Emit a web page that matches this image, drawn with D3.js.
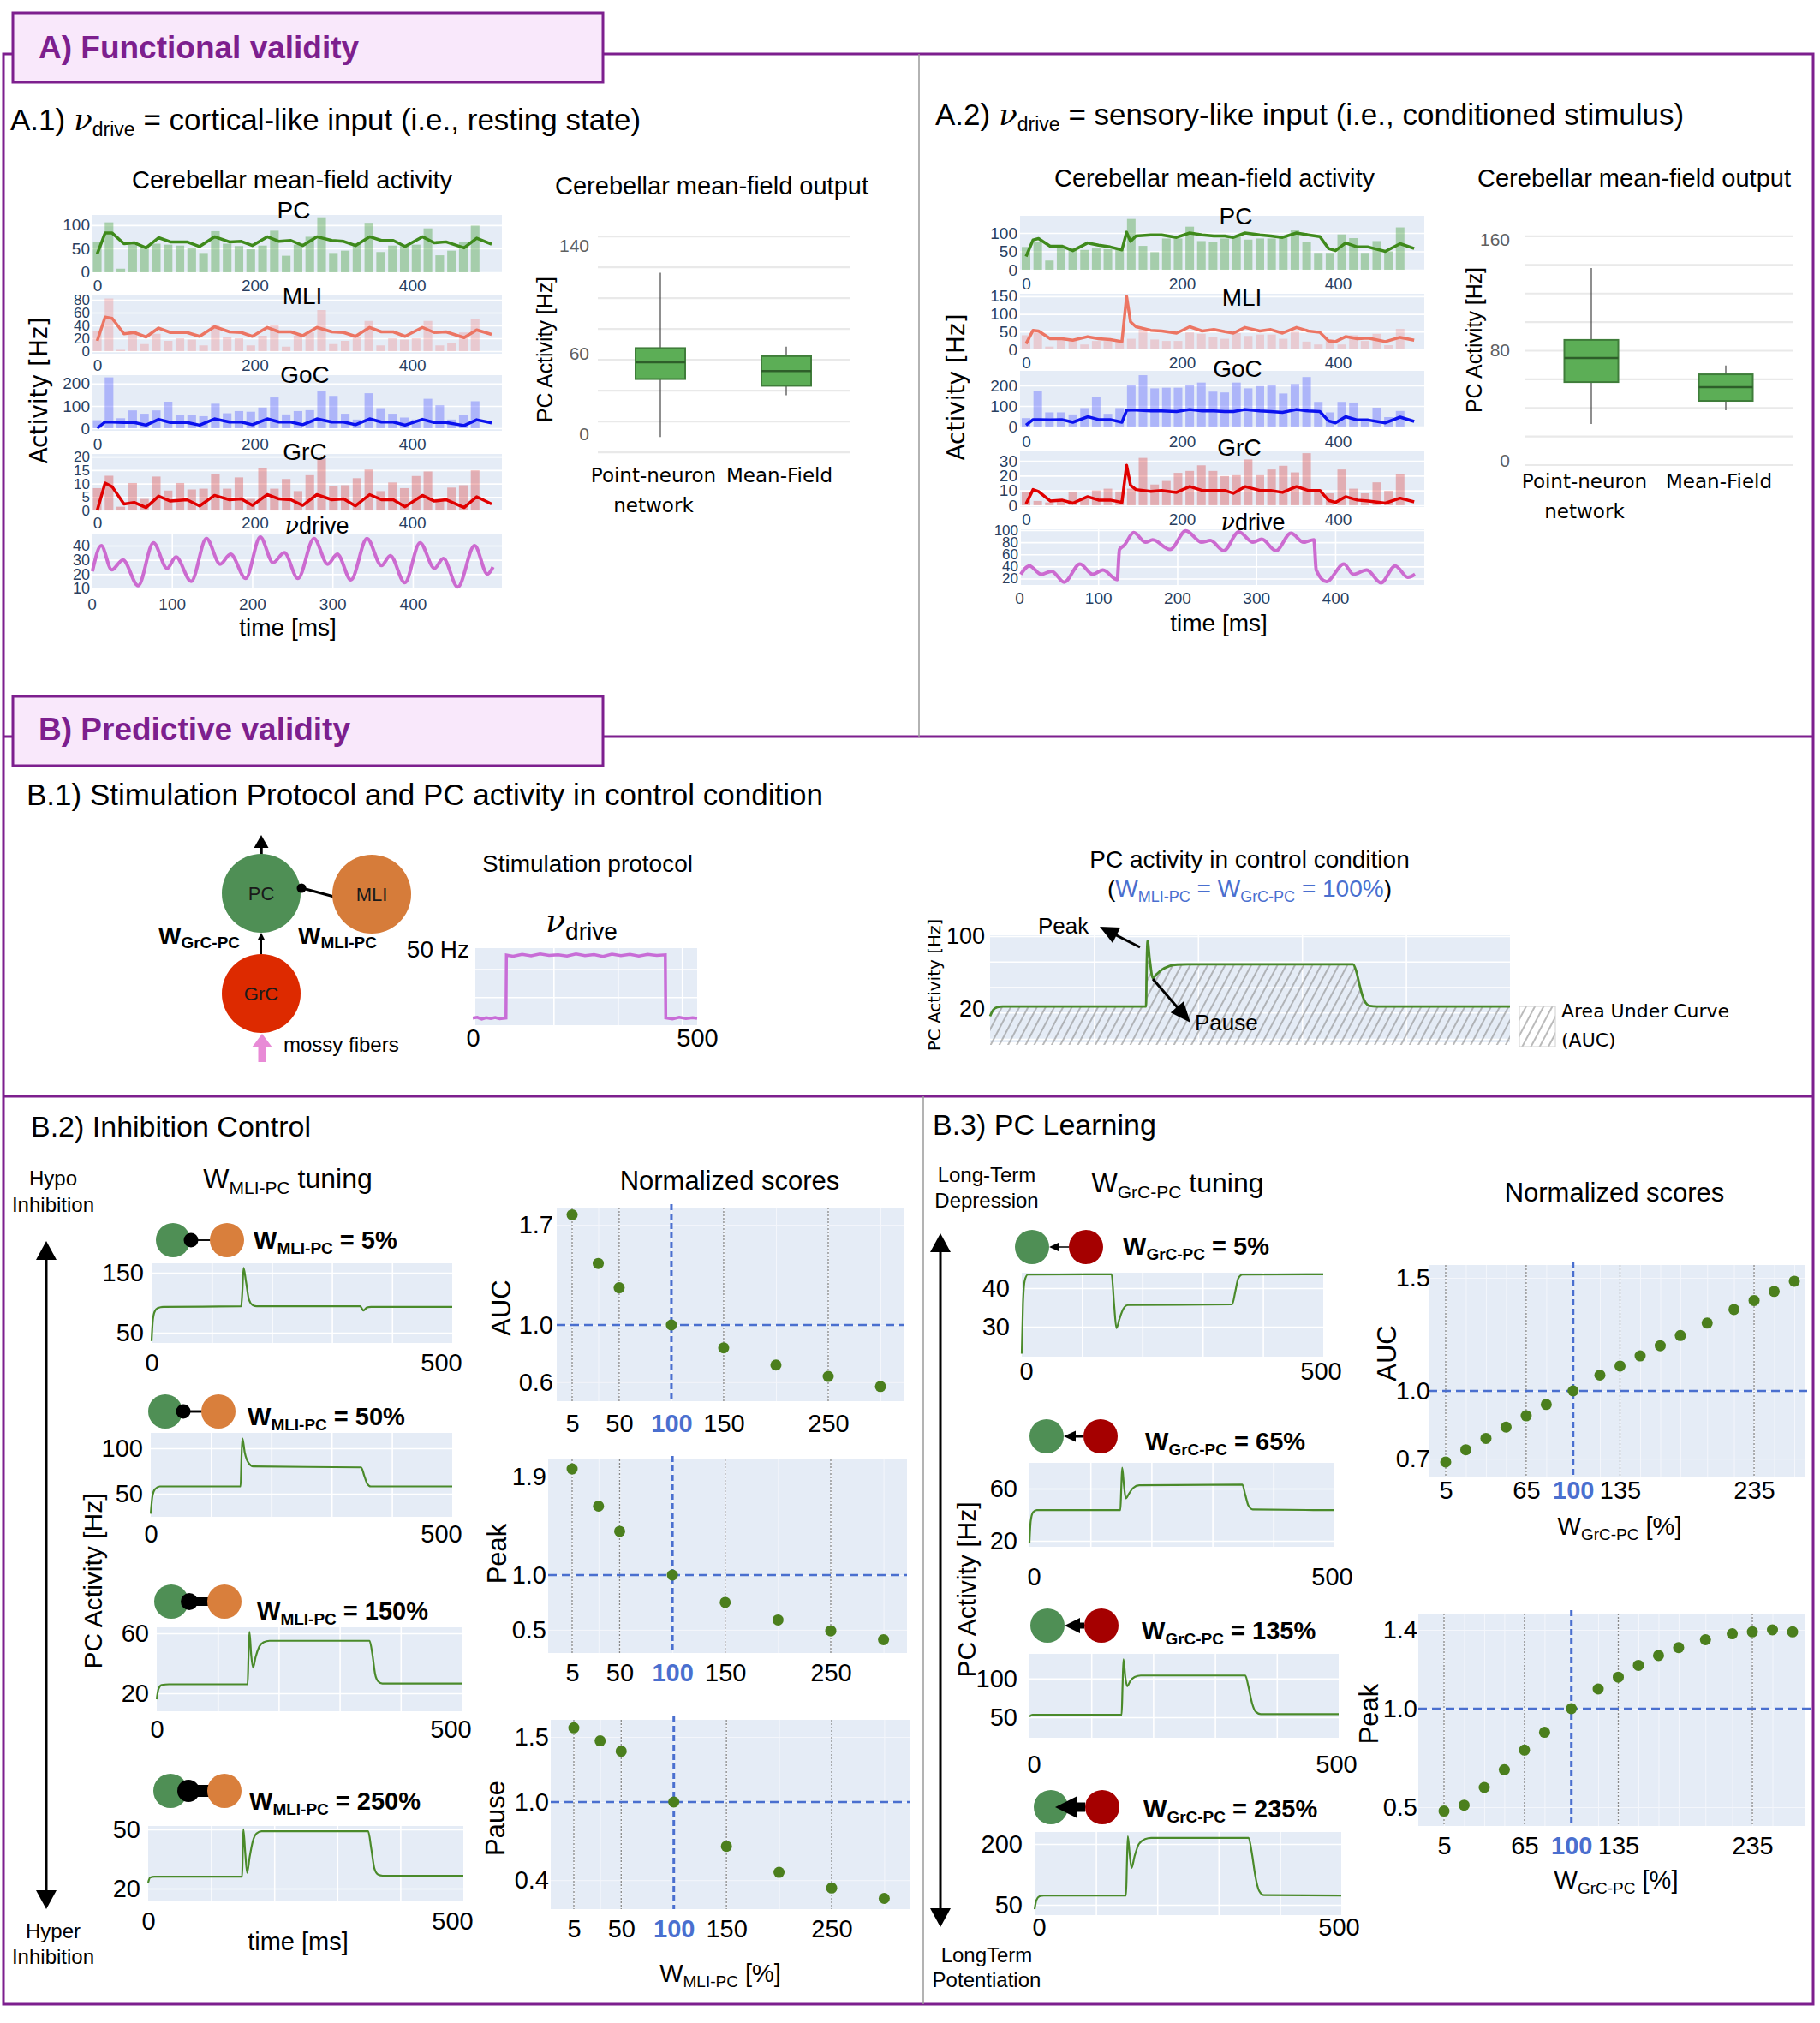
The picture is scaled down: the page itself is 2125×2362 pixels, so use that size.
<!DOCTYPE html>
<html><head><meta charset="utf-8">
<script src="https://cdn.jsdelivr.net/npm/d3@7/dist/d3.min.js"></script>
<style>html,body{margin:0;padding:0;background:#fff}</style>
</head><body>
<script>
// ======================= DATA =======================
const bins=[0,15,30,45,60,75,90,105,120,135,150,165,180,195,210,225,240,255,270,285,300,315,330,345,360,375,390,405,420,435,450,465,480];
// A.1 cortical-like input
const a1PcBars=[64,106,6,58,52,60,58,56,50,40,87,60,55,48,56,88,34,58,75,117,40,45,60,105,42,56,55,58,93,35,45,64,99];
const a1MliBars=[31,82,2,31,11,27,16,20,18,9,40,22,20,9,24,40,7,24,29,64,11,16,22,47,9,20,18,20,47,9,13,29,50];
const a1GocBars=[36,228,45,80,65,80,119,58,58,54,110,67,77,74,93,138,62,77,81,165,145,65,39,157,90,65,48,39,132,103,39,58,121];
const a1GrcBars=[8.3,12.9,1.4,10.2,4.3,12.6,7.4,10.2,7.8,8.1,13.6,8.1,12.3,4.3,15.7,8.1,11.7,7.2,13.1,19.5,9.1,9.4,12.0,15.2,7.2,10.4,8.3,12.8,14.5,4.3,8.5,9.4,14.9];
const a1LineT=[0,10,19,34,47,62,78,93,114,130,149,168,183,197,216,231,246,261,279,298,313,328,346,361,376,391,413,428,443,466,482,501];
const a1PcLine=[38,83,83,60,62,51,73,64,64,54,75,64,65,56,75,65,67,56,75,67,65,56,75,67,67,54,75,62,64,51,72,59];
const a1MliLine=[16,53,51,27,29,22,36,29,29,23,38,30,29,23,37,30,30,24,37,30,29,23,37,30,30,23,37,29,30,21,33,26];
const a1GocLine=[0,28,28,26,26,14,40,26,26,14,42,28,28,16,42,28,28,16,42,28,28,16,42,28,28,14,40,26,26,12,38,24];
const a1GrcLine=[0,10.2,8.8,2.4,3.0,1.1,5.3,3.5,4.0,1.7,5.6,4.0,4.3,1.9,5.9,4.3,4.0,1.9,5.9,4.0,4.3,1.7,5.9,4.0,4.0,1.4,5.6,3.5,4.0,1.1,5.1,2.4];
const a1DriveT=[1,12,25,39,58,77,94,105,124,143,160,173,192,210,226,240,257,277,294,306,323,343,361,372,390,409,427,438,456,477,493,500];
const a1DriveV=[22,40,23,30,12,42,24,32,15,45,27,34,17,46,28,35,17,45,27,34,16,45,26,33,14,42,24,31,11,40,20,25];
// A.2 sensory-like input
const a2PcBars=[62,75,25,62,54,54,58,56,54,138,65,48,85,85,117,78,75,85,92,82,85,85,88,108,75,46,46,96,86,46,78,50,115];
const a2MliBars=[40,52,8,32,28,14,24,24,26,30,56,28,24,24,48,44,36,30,46,38,42,42,30,50,22,14,28,14,40,24,44,12,58];
const a2GocBars=[41,175,69,69,59,90,145,62,90,203,250,186,189,189,203,214,170,166,214,186,197,200,161,207,241,120,69,120,117,28,92,46,76];
const a2GrcBars=[8.7,2.9,1.9,2.9,8.7,4.8,10,11.2,9.3,11.2,32,14,16.4,21.9,23.2,27,23.2,19.7,20.3,31,20.3,24.2,26.7,22.2,35.2,10.6,8.1,24.2,11.2,8.1,15.5,9.7,21.3];
const a2LineT=[0,9,16,31,46,60,79,93,108,123,129,134,141,160,174,193,210,226,241,255,266,281,300,314,329,347,362,377,388,397,410,425,439,461,480,498];
const a2PcLine=[36,81,85,64,64,52,73,67,62,54,102,77,92,95,95,88,100,95,92,92,88,100,95,92,88,100,95,90,58,52,73,62,62,50,71,58];
const a2MliLine=[16,54,52,30,30,26,36,30,28,22,150,78,64,54,52,46,64,52,56,50,46,62,52,56,46,62,52,48,24,22,36,30,32,22,34,26];
const a2GocLine=[7,34,33,32,34,21,48,34,34,21,79,80,80,76,76,73,83,76,76,73,73,83,76,73,69,83,76,73,28,18,48,32,32,18,46,25];
const a2GrcLine=[1,10.6,9.3,2.9,3.5,1.4,5.8,3.5,3.5,1.9,27,13.5,10.6,9.3,10,8.7,12.6,10,10,10,8.1,12.6,10,10,8.7,12.6,10,10,3.3,1.9,5.8,3.5,2.9,1.4,4.8,2.3];
const a2DriveT=[2,13,28,41,57,77,93,106,124,127,133,145,160,169,191,211,231,242,259,278,296,307,325,344,360,373,376,389,411,423,440,458,476,492,501];
const a2DriveV=[27,41,27,32,14,44,27,34,18,68,75,96,80,84,68,99,80,83,66,97,80,85,66,95,80,84,34,15,44,27,34,13,41,22,27];
// box plots (PC activity)
const boxCats=["Point-neuron network","Mean-Field"];
const boxCatLines=[["Point-neuron","network"],["Mean-Field"]];
const a1BoxMin=[-2,29], a1BoxQ1=[41,36], a1BoxMed=[53.5,47], a1BoxQ3=[64,58], a1BoxMax=[120,65];
const a2BoxMin=[26.7,36.6], a2BoxQ1=[57,43.4], a2BoxMed=[74.4,53.3], a2BoxQ3=[87.5,62.6], a2BoxMax=[139.5,69];
// B.1 stimulation protocol & control
const protoT=[0,10,20,30,40,50,60,74,75,90,110,130,150,170,190,210,230,250,270,290,310,330,350,370,390,410,429,430,445,460,475,490,500];
const protoV=[5,5.6,4.4,5.3,4.7,5.5,4.6,5.1,50,49.2,50.6,49.5,50.9,49.8,50.3,49.4,50.8,49.7,50.4,49.1,50.7,49.6,50.5,49.3,50.6,49.8,50.2,5.2,4.5,5.6,4.7,5.4,4.9];
const ctrlT=[0,3,7,12,150,150.5,151.5,153.5,156.5,160,165,172,180,190,349,352,355,358,361,365,372,500];
const ctrlV=[12,19,22,22.8,22.8,60,95,75,54,58,63,67,68.7,69,69,62,48,35,27,23.5,22.8,22.8];
// B.2 W_MLI-PC tuning traces
const b2Labels=["5%","50%","150%","250%"];
const b2P1T=[0,2,5,10,20,149,151,153,157,162,168,175,347,350,352,355,358,365,500];
const b2P1V=[36,70,85,91,93,94,120,158,135,105,96,94,94,90,87,89,92,93,93];
const b2P2T=[0,3,7,15,149,150.5,152,156,162,170,349,354,359,365,500];
const b2P2V=[28,48,55,58,58,90,111,95,84,80,79,70,61,58,58];
const b2P3T=[0,3,8,20,149,150.5,152,155,158,162,168,175,185,349,354,358,363,370,500];
const b2P3V=[16,23,25.5,26,26,45,61,45,37,44,51,54,55,55,45,33,28,26.5,26.5];
const b2P4T=[0,3,10,149,150,151,154,157,161,166,172,180,349,354,359,365,372,500];
const b2P4V=[23,25.5,26,26,38,50,38,28,36,44,48,49,49,40,30,27,26.5,26.5];
// B.3 W_GrC-PC tuning traces
const b3Labels=["5%","65%","135%","235%"];
const b3P1T=[0,2,5,10,149,153,157,162,168,176,349,354,359,366,500];
const b3P1V=[23,36,42,43.5,43.6,36,29.6,32,34.5,35.6,35.8,39,42.5,43.5,43.6];
const b3P2T=[0,2,6,12,149,150.5,152,155,158,163,170,180,349,354,359,366,500];
const b3P2V=[18.7,35,42,43.5,43.5,60,76,62,52.5,56,60.5,62.5,63,55,47,44,43.5];
const b3P3T=[0,5,149,150.5,152,155,158,163,170,180,349,354,360,366,374,500];
const b3P3V=[51,53,53,90,125,102,90,97,102,104,104,90,68,57,54,54];
const b3P4T=[0,3,8,15,149,150.5,152,155,158,163,170,180,190,349,354,360,366,374,500];
const b3P4V=[39,62,71,73,73,150,219,175,141,170,200,212,215,215,180,120,85,74,73];
// Normalized scores
const b2W=[5,30,50,100,150,200,250,300];
const b2Auc=[1.77,1.43,1.26,1.0,0.84,0.72,0.64,0.57];
const b2Peak=[1.97,1.63,1.40,1.0,0.75,0.59,0.49,0.41];
const b2Pause=[1.57,1.47,1.39,1.0,0.66,0.46,0.34,0.26];
const b2Ticks=[5,50,100,150,250];
const b3W=[5,20,35,50,65,80,100,120,135,150,165,180,200,220,235,250,265];
const b3Auc=[0.686,0.74,0.79,0.84,0.89,0.94,1.0,1.07,1.11,1.155,1.20,1.245,1.30,1.36,1.40,1.44,1.485];
const b3Peak=[0.48,0.51,0.60,0.69,0.79,0.88,1.0,1.10,1.16,1.22,1.27,1.31,1.35,1.38,1.39,1.40,1.39];
const b3Ticks=[5,65,100,135,235];

// ======================= DRAW =======================
const W=2125,H=2362;
const SANS="'Liberation Sans', Arial, Helvetica, sans-serif";
const DEJA="'DejaVu Sans', Verdana, sans-serif";
const SERIF="'DejaVu Serif', 'Liberation Serif', serif";
const PUR="#7d1f8e", PINK="#f9e8fb", PLOTBG="#e5ecf6", TICK="#2a3f5f", BLUE="#4a6fcf";
const svg=d3.select("body").append("svg").attr("width",W).attr("height",H).attr("font-family",SANS);
svg.append("rect").attr("width",W).attr("height",H).attr("fill","#fff");
const defs=svg.append("defs");
const pat=defs.append("pattern").attr("id","hatch").attr("patternUnits","userSpaceOnUse").attr("width",9).attr("height",9).attr("patternTransform","rotate(28)");
pat.append("line").attr("x1",1).attr("y1",0).attr("x2",1).attr("y2",9).attr("stroke","#8c8c8c").attr("stroke-width",1.2);

function rich(g,x,y,parts,attrs){
  const t=g.append("text").attr("x",x).attr("y",y);
  if(attrs) for(const k in attrs) t.attr(k,attrs[k]);
  let shift=0;
  parts.forEach(p=>{
    const ts=t.append("tspan").text(p.t);
    const s=p.dy||0;
    if(s!==shift){ts.attr("dy",s-shift);shift=s;}
    if(p.fs) ts.attr("font-size",p.fs);
    if(p.fill) ts.attr("fill",p.fill);
    if(p.it) ts.attr("font-style","italic");
    if(p.ff) ts.attr("font-family",p.ff);
    if(p.fw) ts.attr("font-weight",p.fw);
  });
  return t;
}
function txt(g,x,y,s,fs,attrs){
  const t=g.append("text").attr("x",x).attr("y",y).attr("font-size",fs).text(s);
  if(attrs) for(const k in attrs) t.attr(k,attrs[k]);
  return t;
}
function arrow(g,x1,y1,x2,y2,hl,hw,sw,col){
  const dx=x2-x1,dy=y2-y1,L=Math.hypot(dx,dy),ux=dx/L,uy=dy/L;
  const bx=x2-ux*hl,by=y2-uy*hl;
  g.append("line").attr("x1",x1).attr("y1",y1).attr("x2",bx+ux).attr("y2",by+uy).attr("stroke",col).attr("stroke-width",sw);
  g.append("polygon").attr("points",`${x2},${y2} ${bx-uy*hw/2},${by+ux*hw/2} ${bx+uy*hw/2},${by-ux*hw/2}`).attr("fill",col);
}
function cleanAxis(a,fs,col,ff){
  a.select(".domain").remove();
  a.selectAll("text").attr("font-size",fs).attr("fill",col).attr("font-family",ff||SANS);
}
function gridAxis(a){a.select(".domain").remove();a.selectAll("line").attr("stroke","#fff").attr("stroke-width",1.6);}

// ---------- frames ----------
const fr=svg.append("g").attr("fill","none").attr("stroke",PUR).attr("stroke-width",3);
fr.append("path").attr("d","M4,63H2117V2340H4Z M4,860H2117 M4,1280H2117");
svg.append("line").attr("x1",1073).attr("x2",1073).attr("y1",63).attr("y2",860).attr("stroke","#9a9a9a").attr("stroke-width",1.5);
svg.append("line").attr("x1",1078).attr("x2",1078).attr("y1",1280).attr("y2",2340).attr("stroke","#9a9a9a").attr("stroke-width",1.5);
[[15,"A) Functional validity",68],[813,"B) Predictive validity",864]].forEach(([y,s,b])=>{
  svg.append("rect").attr("x",15).attr("y",y).attr("width",689).attr("height",81).attr("fill",PINK).attr("stroke",PUR).attr("stroke-width",3);
  txt(svg,45,b,s,37,{"font-weight":"bold",fill:PUR});
});

// ---------- section A ----------
rich(svg,12,152,[{t:"A.1) ",fs:35},{t:"ν",fs:36,it:true,ff:SERIF},{t:"drive",fs:23,dy:7},{t:" = cortical-like input (i.e., resting state)",fs:35,dy:0}]);
rich(svg,1092,146,[{t:"A.2) ",fs:35},{t:"ν",fs:36,it:true,ff:SERIF},{t:"drive",fs:23,dy:7},{t:" = sensory-like input (i.e., conditioned stimulus)",fs:35,dy:0}]);
txt(svg,341,220,"Cerebellar mean-field activity",29,{"text-anchor":"middle"});
txt(svg,831,227,"Cerebellar mean-field output",29,{"text-anchor":"middle"});
txt(svg,1418,218,"Cerebellar mean-field activity",29,{"text-anchor":"middle"});
txt(svg,1908,218,"Cerebellar mean-field output",29,{"text-anchor":"middle"});
txt(svg,0,0,"Activity [Hz]",28,{"text-anchor":"middle","font-family":DEJA,transform:"translate(55,456) rotate(-90)"});
txt(svg,0,0,"Activity [Hz]",28,{"text-anchor":"middle","font-family":DEJA,transform:"translate(1126,452) rotate(-90)"});

function actPanel(p){
  const g=svg.append("g");
  const x=d3.scaleLinear().domain(p.xd).range(p.xr);
  const y=d3.scaleLinear().domain(p.yd).range([p.y1,p.y0]);
  const w=p.xr[1]-p.xr[0];
  g.append("rect").attr("x",p.xr[0]).attr("y",p.y0).attr("width",w).attr("height",p.y1-p.y0).attr("fill",PLOTBG);
  g.append("g").attr("transform",`translate(${p.xr[0]},0)`).call(d3.axisLeft(y).tickValues(p.ticks).tickSize(-w).tickFormat("")).call(gridAxis);
  if(p.vgrid) g.append("g").attr("transform",`translate(0,${p.y1})`).call(d3.axisBottom(x).tickValues(p.xticks.filter(v=>v>0)).tickSize(-(p.y1-p.y0)).tickFormat("")).call(gridAxis);
  if(p.bars){
    const bw=x(11)-x(0);
    g.selectAll(null).data(d3.zip(bins,p.bars)).join("rect")
      .attr("x",d=>x(d[0])-bw/2).attr("width",bw).attr("y",d=>y(d[1])).attr("height",d=>y(0)-y(d[1])).attr("fill",p.bc);
  }
  g.append("path").datum(d3.zip(p.lt,p.lv))
    .attr("d",d3.line().x(d=>x(d[0])).y(d=>y(d[1])).curve(p.curve||d3.curveLinear))
    .attr("fill","none").attr("stroke",p.lc).attr("stroke-width",p.lw||3.5).attr("stroke-linejoin","round");
  g.append("g").attr("transform",`translate(${p.xr[0]-3},0)`).call(d3.axisLeft(y).tickValues(p.ticks).tickSize(0).tickPadding(0)).call(a=>cleanAxis(a,p.tfs||19,TICK));
  g.append("g").attr("transform",`translate(0,${p.xly})`).call(d3.axisBottom(x).tickValues(p.xticks).tickSize(0))
    .call(a=>{cleanAxis(a,19,TICK);a.selectAll("text").attr("y",0).attr("dy",0);});
  if(p.drive) rich(g,p.tx,p.ty,[{t:"ν",it:true,ff:SERIF},{t:"drive"}],{"font-size":27,"text-anchor":"middle"});
  else txt(g,p.tx,p.ty,p.name,28,{"text-anchor":"middle"});
}
// A.1 panels
const a1xr=[108,586], a1xd=[-6,514];
[
 {name:"PC",y0:251,y1:317,yd:[0,122],ticks:[0,50,100],bars:a1PcBars,lv:a1PcLine,bc:"rgba(70,160,60,0.40)",lc:"#3f8a1c",tx:343,ty:255,xly:340},
 {name:"MLI",y0:345,y1:413,yd:[-4,86.7],ticks:[0,20,40,60,80],tfs:17,bars:a1MliBars,lv:a1MliLine,bc:"rgba(240,120,120,0.30)",lc:"#ec7563",tx:353,ty:355,xly:433},
 {name:"GoC",y0:438,y1:503,yd:[-11.5,238],ticks:[0,100,200],bars:a1GocBars,lv:a1GocLine,bc:"rgba(90,100,255,0.40)",lc:"#0b12ee",tx:356,ty:447,xly:525},
 {name:"GrC",y0:530,y1:597,yd:[-0.3,21],ticks:[0,5,10,15,20],tfs:17,bars:a1GrcBars,lv:a1GrcLine,bc:"rgba(220,80,80,0.40)",lc:"#e00000",tx:356,ty:537,xly:617}
].forEach(p=>actPanel(Object.assign({xr:a1xr,xd:a1xd,xticks:[0,200,400],lt:a1LineT},p)));
actPanel({drive:true,xr:[108,586],xd:[1.1,511],y0:623,y1:688,yd:[9.4,48.4],ticks:[10,20,30,40],tfs:18,xticks:[0,100,200,300,400],vgrid:true,
  lt:a1DriveT,lv:a1DriveV,lc:"#cc6bd0",lw:4,curve:d3.curveMonotoneX,tx:370,ty:623,xly:712});
txt(svg,336,742,"time [ms]",28,{"text-anchor":"middle"});
// A.2 panels
const a2xr=[1191,1663], a2xd=[-7.7,511];
[
 {name:"PC",y0:252,y1:316,yd:[-2.3,146.5],ticks:[0,50,100],bars:a2PcBars,lv:a2PcLine,bc:"rgba(70,160,60,0.40)",lc:"#3f8a1c",tx:1443,ty:262,xly:338},
 {name:"MLI",y0:343,y1:408,yd:[0,157],ticks:[0,50,100,150],bars:a2MliBars,lv:a2MliLine,bc:"rgba(240,120,120,0.28)",lc:"#ec7563",tx:1450,ty:357,xly:430},
 {name:"GoC",y0:433,y1:499,yd:[-4,271],ticks:[0,100,200],bars:a2GocBars,lv:a2GocLine,bc:"rgba(90,100,255,0.40)",lc:"#0b12ee",tx:1445,ty:440,xly:522},
 {name:"GrC",y0:526,y1:592,yd:[-1.2,37],ticks:[0,10,20,30],bars:a2GrcBars,lv:a2GrcLine,bc:"rgba(220,80,80,0.40)",lc:"#e00000",tx:1447,ty:532,xly:613}
].forEach(p=>actPanel(Object.assign({xr:a2xr,xd:a2xd,xticks:[0,200,400],lt:a2LineT},p)));
actPanel({drive:true,xr:[1192,1663],xd:[2.2,512.8],y0:618,y1:683,yd:[9.3,101.4],ticks:[20,40,60,80,100],tfs:17,xticks:[0,100,200,300,400],vgrid:true,
  lt:a2DriveT,lv:a2DriveV,lc:"#cc6bd0",lw:4,curve:d3.curveMonotoneX,tx:1463,ty:619,xly:705});
txt(svg,1423,737,"time [ms]",28,{"text-anchor":"middle"});

// box plots
function boxPlot(p){
  const g=svg.append("g");
  const y=d3.scaleLinear().domain([0,p.topV]).range([p.zeroPx,p.topPx]);
  const x=d3.scalePoint().domain(boxCats).range(p.xc);
  g.selectAll(null).data(d3.range(p.gStart,p.gEnd,p.gStep)).join("line")
    .attr("x1",p.gx[0]).attr("x2",p.gx[1]).attr("y1",d=>y(d)).attr("y2",d=>y(d)).attr("stroke","#e9e9e9").attr("stroke-width",2.2);
  g.append("g").attr("transform",`translate(${p.lx},0)`).call(d3.axisLeft(y).tickValues(p.ticks).tickSize(0).tickPadding(0)).call(a=>cleanAxis(a,21,"#606060"));
  const bw=p.bw;
  boxCats.forEach((c,i)=>{
    const cx=x(c);
    g.append("line").attr("x1",cx).attr("x2",cx).attr("y1",y(p.max[i])).attr("y2",y(p.min[i])).attr("stroke","#444").attr("stroke-width",1.2);
    g.append("rect").attr("x",cx-bw/2).attr("width",bw).attr("y",y(p.q3[i])).attr("height",y(p.q1[i])-y(p.q3[i]))
      .attr("fill","#5cae56").attr("stroke","#3f7d3a").attr("stroke-width",2);
    g.append("line").attr("x1",cx-bw/2).attr("x2",cx+bw/2).attr("y1",y(p.med[i])).attr("y2",y(p.med[i])).attr("stroke","#2e5f2a").attr("stroke-width",2.5);
    boxCatLines[i].forEach((s,j)=>txt(g,cx-8,p.catY+j*35,s,23,{"text-anchor":"middle","font-family":DEJA}));
  });
  txt(g,0,0,"PC Activity [Hz]",25,{"text-anchor":"middle",textLength:170,lengthAdjust:"spacingAndGlyphs",transform:`translate(${p.ylx},${p.yly}) rotate(-90)`});
}
boxPlot({topV:140,zeroPx:507,topPx:287,xc:[771,918],bw:58,gx:[698,992],gStart:-13.4,gEnd:150,gStep:22.9,lx:688,ticks:[0,60,140],
  min:a1BoxMin,q1:a1BoxQ1,med:a1BoxMed,q3:a1BoxQ3,max:a1BoxMax,catY:563,ylx:645,yly:408});
boxPlot({topV:160,zeroPx:538,topPx:280,xc:[1858,2015],bw:63,gx:[1780,2093],gStart:-3.1,gEnd:175,gStep:20.7,lx:1763,ticks:[0,80,160],
  min:a2BoxMin,q1:a2BoxQ1,med:a2BoxMed,q3:a2BoxQ3,max:a2BoxMax,catY:570,ylx:1730,yly:397});

// ---------- section B.1 ----------
txt(svg,31,940,"B.1) Stimulation Protocol and PC activity in control condition",35);
{
  const g=svg.append("g");
  arrow(g,305,998,305,975,15,17,3.5,"#000");
  arrow(g,305,1114,305,1089,9,9,2,"#000");
  g.append("line").attr("x1",390).attr("y1",1047).attr("x2",353).attr("y2",1037).attr("stroke","#000").attr("stroke-width",3);
  g.append("circle").attr("cx",305).attr("cy",1043).attr("r",46).attr("fill","#4f8f55");
  g.append("circle").attr("cx",434).attr("cy",1044).attr("r",46).attr("fill","#d67c3a");
  g.append("circle").attr("cx",305).attr("cy",1160).attr("r",46).attr("fill","#dd2a00");
  g.append("circle").attr("cx",352).attr("cy",1037).attr("r",5.5).attr("fill","#000");
  txt(g,305,1051,"PC",22,{"text-anchor":"middle",fill:"#1a1a1a"});
  txt(g,434,1052,"MLI",22,{"text-anchor":"middle",fill:"#1a1a1a"});
  txt(g,305,1168,"GrC",22,{"text-anchor":"middle",fill:"#1a1a1a"});
  rich(g,185,1102,[{t:"W",fs:28},{t:"GrC-PC",fs:19,dy:5}],{"font-weight":"bold"});
  rich(g,348,1102,[{t:"W",fs:28},{t:"MLI-PC",fs:19,dy:5}],{"font-weight":"bold"});
  arrow(g,306,1240,306,1207,16,24,9,"#e88ad6");
  txt(g,331,1228,"mossy fibers",24);
  // stimulation protocol
  txt(g,686,1018,"Stimulation protocol",28,{"text-anchor":"middle"});
  const x=d3.scaleLinear().domain([0,500]).range([552,814]);
  const y=d3.scaleLinear().domain([0,55]).range([1197,1107]);
  g.append("rect").attr("x",555).attr("y",1107).attr("width",259).attr("height",90).attr("fill",PLOTBG);
  g.append("g").attr("transform","translate(555,0)").call(d3.axisLeft(y).tickValues([20,40]).tickSize(-259).tickFormat("")).call(gridAxis);
  g.append("g").attr("transform","translate(0,1197)").call(d3.axisBottom(x).tickValues([180,323,466]).tickSize(-90).tickFormat("")).call(gridAxis);
  g.append("path").datum(d3.zip(protoT,protoV)).attr("d",d3.line().x(d=>x(d[0])).y(d=>y(d[1]))).attr("fill","none").attr("stroke","#c86dd7").attr("stroke-width",3.5);
  g.append("g").attr("transform","translate(0,1222)").call(d3.axisBottom(x).tickValues([0,500]).tickSize(0))
    .call(a=>{cleanAxis(a,29,"#000");a.selectAll("text").attr("y",0).attr("dy",0);});
  txt(g,548,1118,"50 Hz",28,{"text-anchor":"end"});
  rich(g,637,1088,[{t:"ν",fs:38,it:true,ff:SERIF},{t:"drive",fs:28,dy:9}]);
}
{
  // PC activity in control condition
  const g=svg.append("g");
  txt(g,1459,1013,"PC activity in control condition",28,{"text-anchor":"middle"});
  rich(g,1459,1047,[{t:"(",fs:28},{t:"W",fs:28,fill:BLUE},{t:"MLI-PC",fs:18,fill:BLUE,dy:6},{t:" = W",fs:28,fill:BLUE,dy:0},{t:"GrC-PC",fs:18,fill:BLUE,dy:6},{t:" = 100%",fs:28,fill:BLUE,dy:0},{t:")",fs:28}],{"text-anchor":"middle"});
  const x=d3.scaleLinear().domain([0,500]).range([1156,1763]);
  const y=d3.scaleLinear().domain([20,100]).range([1178,1093]);
  const yb=1217;
  g.append("rect").attr("x",1156).attr("y",1092).attr("width",607).attr("height",yb-1092).attr("fill",PLOTBG);
  g.append("g").attr("transform","translate(1156,0)").call(d3.axisLeft(y).tickValues([100,72,44,16,-13]).tickSize(-607).tickFormat("")).call(gridAxis);
  g.append("g").attr("transform",`translate(0,${yb})`).call(d3.axisBottom(x).tickValues([100,200,300,400]).tickSize(-(yb-1092)).tickFormat("")).call(gridAxis);
  const pts=d3.zip(ctrlT,ctrlV);
  g.append("path").datum(pts).attr("d",d3.area().x(d=>x(d[0])).y0(yb+3).y1(d=>y(d[1])).curve(d3.curveMonotoneX)).attr("fill","url(#hatch)");
  g.append("path").datum(pts).attr("d",d3.line().x(d=>x(d[0])).y(d=>y(d[1])).curve(d3.curveMonotoneX)).attr("fill","none").attr("stroke","#4a8a2a").attr("stroke-width",2.8);
  g.append("g").attr("transform","translate(1150,0)").call(d3.axisLeft(y).tickValues([20,100]).tickSize(0).tickPadding(0)).call(a=>cleanAxis(a,27,"#000"));
  txt(g,0,0,"PC Activity [Hz]",20,{"text-anchor":"middle","font-family":DEJA,transform:"translate(1098,1150) rotate(-90)"});
  txt(g,1212,1090,"Peak",26);
  arrow(g,1331,1106,1284,1082,22,20,3,"#000");
  txt(g,1395,1203,"Pause",26);
  arrow(g,1346,1143,1390,1194,24,20,3,"#000");
  g.append("rect").attr("x",1774).attr("y",1175).attr("width",42).attr("height",47).attr("fill","url(#hatch)").attr("stroke","#cfcfcf").attr("stroke-width",1);
  txt(g,1823,1188,"Area Under Curve",22,{"font-family":DEJA});
  txt(g,1823,1222,"(AUC)",22,{"font-family":DEJA});
}

// ---------- B.2 / B.3 traces ----------
function linePanel(p){
  const g=svg.append("g");
  const x=d3.scaleLinear().domain([0,500]).range([p.x0,p.x1]);
  const y=d3.scaleLinear().domain(p.yd).range([p.y1,p.y0]);
  g.append("rect").attr("x",p.x0).attr("y",p.y0).attr("width",p.x1-p.x0).attr("height",p.y1-p.y0).attr("fill",PLOTBG);
  g.append("g").attr("transform",`translate(${p.x0},0)`).call(d3.axisLeft(y).tickValues(p.ticks).tickSize(-(p.x1-p.x0)).tickFormat("")).call(gridAxis);
  g.append("g").attr("transform",`translate(0,${p.y1})`).call(d3.axisBottom(x).tickValues([100,200,300,400]).tickSize(-(p.y1-p.y0)).tickFormat("")).call(gridAxis);
  g.append("path").datum(d3.zip(p.t,p.v)).attr("d",d3.line().x(d=>x(d[0])).y(d=>y(d[1])).curve(d3.curveMonotoneX))
    .attr("fill","none").attr("stroke","#4a8a2a").attr("stroke-width",2.2);
  g.append("g").attr("transform",`translate(${p.x0-p.lpad},0)`).call(d3.axisLeft(y).tickValues(p.ticks).tickSize(0).tickPadding(0)).call(a=>cleanAxis(a,29,"#000"));
  g.append("g").attr("transform",`translate(0,${p.xly})`).call(d3.axisBottom(x).tickValues([0,500]).tickSize(0))
    .call(a=>{cleanAxis(a,29,"#000");a.selectAll("text").attr("y",0).attr("dy",0).attr("dx",d=>d===500?p.dx500:p.dx0);});
}
const b2T=[b2P1T,b2P2T,b2P3T,b2P4T], b2V=[b2P1V,b2P2V,b2P3V,b2P4V];
const b3T=[b3P1T,b3P2T,b3P3T,b3P4T], b3V=[b3P1V,b3P2V,b3P3V,b3P4V];
[
 {x0:177,x1:528,y0:1475,y1:1568,yd:[32.9,165.7],ticks:[50,150],xly:1601},
 {x0:176,x1:528,y0:1673,y1:1771,yd:[24.5,117],ticks:[50,100],xly:1801},
 {x0:183,x1:539,y0:1900,y1:1998,yd:[8,64],ticks:[20,60],xly:2029},
 {x0:173,x1:541,y0:2132,y1:2219,yd:[13.9,51.7],ticks:[20,50],xly:2253}
].forEach((p,i)=>linePanel(Object.assign({t:b2T[i],v:b2V[i],lpad:9,dx0:0,dx500:-13},p)));
[
 {x0:1193,x1:1545,y0:1486,y1:1584,yd:[22.2,44],ticks:[30,40],xly:1611},
 {x0:1202,x1:1558,y0:1708,y1:1806,yd:[15.4,79.7],ticks:[20,60],xly:1851},
 {x0:1202,x1:1563,y0:1931,y1:2029,yd:[23.3,132],ticks:[50,100],xly:2070},
 {x0:1208,x1:1566,y0:2139,y1:2236,yd:[24.6,229.6],ticks:[50,200],xly:2260}
].forEach((p,i)=>linePanel(Object.assign({t:b3T[i],v:b3V[i],lpad:14,dx0:5,dx500:-3},p)));

// icons and labels
function wLabel(g,x,y,sub,rest,fs,sfs,attrs){
  return rich(g,x,y,[{t:"W",fs:fs},{t:sub,fs:sfs,dy:Math.round(fs*0.22)},{t:rest,fs:fs,dy:0}],attrs);
}
{
  const g=svg.append("g");
  const ic=[[202,1448,265,1.5,8.5],[193,1648,255,2.5,8.5],[200,1870,262,10,10],[199,2091,262,14,13]];
  const lab=[[296,1458],[289,1664],[300,1891],[291,2113]];
  ic.forEach(([cx,cy,ox,lw,dr],i)=>{
    g.append("line").attr("x1",cx).attr("x2",ox).attr("y1",cy).attr("y2",cy).attr("stroke","#000").attr("stroke-width",lw);
    g.append("circle").attr("cx",cx).attr("cy",cy).attr("r",20).attr("fill","#4f8f55");
    g.append("circle").attr("cx",ox).attr("cy",cy).attr("r",20).attr("fill","#d97f3c");
    g.append("rect").attr("x",cx+20).attr("y",cy-lw/2).attr("width",ox-cx-40).attr("height",lw).attr("fill","#000");
    g.append("circle").attr("cx",cx+21).attr("cy",cy).attr("r",dr).attr("fill","#000");
    wLabel(g,lab[i][0],lab[i][1],"MLI-PC"," = "+b2Labels[i],29,19,{"font-weight":"bold"});
  });
  const ic3=[[1205,1456,1268,1.5,12,11,0],[1222,1677,1285,3,14,13,0],[1223,1898,1286,7,18,18,0],[1227,2110,1287,11,25,25,15]];
  const lab3=[[1311,1465],[1337,1693],[1333,1914],[1335,2122]];
  ic3.forEach(([cx,cy,rx,lw,hl,hw,ins],i)=>{
    g.append("circle").attr("cx",cx).attr("cy",cy).attr("r",20).attr("fill","#4f8f55");
    g.append("circle").attr("cx",rx).attr("cy",cy).attr("r",20).attr("fill","#a50000");
    arrow(g,rx-20,cy,cx+20-ins,cy,hl,hw,lw,"#000");
    wLabel(g,lab3[i][0],lab3[i][1],"GrC-PC"," = "+b3Labels[i],29,19,{"font-weight":"bold"});
  });
  // headers
  txt(g,36,1327,"B.2) Inhibition Control",34);
  txt(g,1089,1325,"B.3) PC Learning",34);
  wLabel(g,336,1387,"MLI-PC"," tuning",32,21,{"text-anchor":"middle"});
  wLabel(g,1375,1392,"GrC-PC"," tuning",32,21,{"text-anchor":"middle"});
  txt(g,62,1384,"Hypo",24,{"text-anchor":"middle"});
  txt(g,62,1415,"Inhibition",24,{"text-anchor":"middle"});
  txt(g,62,2263,"Hyper",24,{"text-anchor":"middle"});
  txt(g,62,2293,"Inhibition",24,{"text-anchor":"middle"});
  txt(g,1152,1380,"Long-Term",24,{"text-anchor":"middle"});
  txt(g,1152,1410,"Depression",24,{"text-anchor":"middle"});
  txt(g,1152,2291,"LongTerm",24,{"text-anchor":"middle"});
  txt(g,1152,2320,"Potentiation",24,{"text-anchor":"middle"});
  // double arrows
  [[54,1449,2229],[1098,1440,2250]].forEach(([x,a,b])=>{
    g.append("line").attr("x1",x).attr("x2",x).attr("y1",a+20).attr("y2",b-20).attr("stroke","#000").attr("stroke-width",3);
    g.append("polygon").attr("points",`${x},${a} ${x-12},${a+22} ${x+12},${a+22}`).attr("fill","#000");
    g.append("polygon").attr("points",`${x},${b} ${x-12},${b-22} ${x+12},${b-22}`).attr("fill","#000");
  });
  txt(g,0,0,"PC Activity [Hz]",30,{"text-anchor":"middle",transform:"translate(119,1846) rotate(-90)"});
  txt(g,0,0,"PC Activity [Hz]",30,{"text-anchor":"middle",transform:"translate(1139,1856) rotate(-90)"});
  txt(g,348,2277,"time [ms]",29,{"text-anchor":"middle"});
  txt(g,852,1389,"Normalized scores",31,{"text-anchor":"middle"});
  txt(g,1885,1403,"Normalized scores",31,{"text-anchor":"middle"});
  wLabel(g,841,2314,"MLI-PC"," [%]",29,19,{"text-anchor":"middle"});
  wLabel(g,1891,1792,"GrC-PC"," [%]",29,19,{"text-anchor":"middle"});
  wLabel(g,1887,2205,"GrC-PC"," [%]",29,19,{"text-anchor":"middle"});
}

// ---------- normalized score scatter panels ----------
function scatter(p){
  const g=svg.append("g");
  const x=d3.scaleLinear().domain([5,p.xv2]).range([p.px5,p.px2]);
  const y=d3.scaleLinear().domain([1,0]).range([p.py1,p.py1+p.ky]);
  const h=p.y1-p.y0, w=p.x1-p.x0;
  g.append("rect").attr("x",p.x0).attr("y",p.y0).attr("width",w).attr("height",h).attr("fill",PLOTBG);
  g.append("g").attr("transform",`translate(0,${p.y1})`).call(d3.axisBottom(x).tickValues(p.xs).tickSize(-h).tickFormat("")).call(a=>{gridAxis(a);a.selectAll("line").attr("stroke-width",1).attr("stroke","#f4f6fb");});
  g.append("g").attr("transform",`translate(${p.x0},0)`).call(d3.axisLeft(y).tickValues(p.yt).tickSize(-w).tickFormat("")).call(a=>{gridAxis(a);a.selectAll("line").attr("stroke-width",1).attr("stroke","#f4f6fb");});
  g.selectAll(null).data(p.xt.filter(v=>v!==100)).join("line").attr("x1",d=>x(d)).attr("x2",d=>x(d)).attr("y1",p.y0).attr("y2",p.y1)
    .attr("stroke","#888").attr("stroke-width",1.3).attr("stroke-dasharray","2,2");
  g.append("line").attr("x1",p.x0).attr("x2",p.hx1||p.x1).attr("y1",y(1)).attr("y2",y(1)).attr("stroke",BLUE).attr("stroke-width",2.5).attr("stroke-dasharray","10,6");
  g.append("line").attr("x1",x(100)).attr("x2",x(100)).attr("y1",p.y0-4).attr("y2",p.y1).attr("stroke",BLUE).attr("stroke-width",3).attr("stroke-dasharray","7,4");
  g.selectAll(null).data(d3.zip(p.xs,p.ys)).join("circle").attr("cx",d=>x(d[0])).attr("cy",d=>y(d[1])).attr("r",6.5).attr("fill","#4b7f1d");
  g.append("g").attr("transform",`translate(${p.x0+p.lpad},0)`).call(d3.axisLeft(y).tickValues(p.yt).tickSize(0).tickPadding(0).tickFormat(d3.format(".1f"))).call(a=>cleanAxis(a,29,"#000"));
  g.append("g").attr("transform",`translate(0,${p.xly})`).call(d3.axisBottom(x).tickValues(p.xt).tickSize(0))
    .call(a=>{cleanAxis(a,29,"#000");a.selectAll("text").attr("y",0).attr("dy",0)
      .attr("fill",d=>d===100?BLUE:"#000").attr("font-weight",d=>d===100?"bold":"normal");});
  txt(g,0,0,p.name,31,{"text-anchor":"middle",transform:`translate(${p.nx},${p.ny}) rotate(-90)`});
}
scatter({name:"AUC",x0:650,x1:1055,y0:1410,y1:1636,xv2:250,px5:668,px2:967,py1:1547,ky:167,xs:b2W,ys:b2Auc,xt:b2Ticks,yt:[0.6,1.0,1.7],xly:1672,lpad:-4,nx:596,ny:1527});
scatter({name:"Peak",x0:640,x1:1059,y0:1704,y1:1930,xv2:250,px5:668,px2:970,py1:1839,ky:127.8,xs:b2W,ys:b2Peak,xt:b2Ticks,yt:[0.5,1.0,1.9],xly:1963,lpad:-2,nx:591,ny:1814});
scatter({name:"Pause",x0:643,x1:1062,y0:2008,y1:2229,xv2:250,px5:670,px2:971,py1:2104,ky:152,xs:b2W,ys:b2Pause,xt:b2Ticks,yt:[0.4,1.0,1.5],xly:2262,lpad:-2,nx:589,ny:2123});
scatter({name:"AUC",x0:1668,x1:2107,y0:1477,y1:1724,xv2:265,px5:1688,px2:2095,py1:1624,ky:264,xs:b3W,ys:b3Auc,xt:b3Ticks,yt:[0.7,1.0,1.5],xly:1750,lpad:2,hx1:2116,nx:1630,ny:1580});
scatter({name:"Peak",x0:1656,x1:2107,y0:1884,y1:2132,xv2:265,px5:1686,px2:2093,py1:1995,ky:230,xs:b3W,ys:b3Peak,xt:b3Ticks,yt:[0.5,1.0,1.4],xly:2165,lpad:-1,hx1:2116,nx:1609,ny:2001});
</script>
</body></html>
